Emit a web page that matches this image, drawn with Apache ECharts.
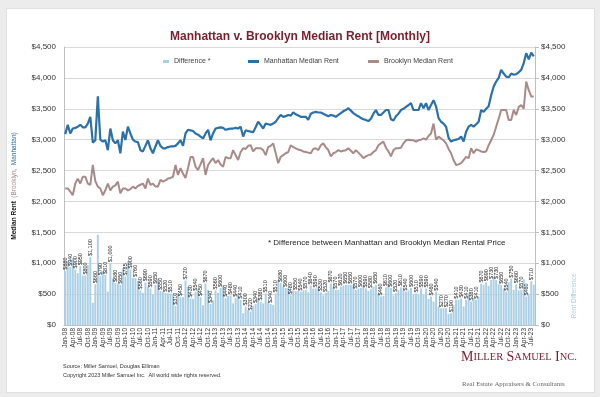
<!DOCTYPE html>
<html>
<head>
<meta charset="utf-8">
<script src="https://cdn.jsdelivr.net/npm/echarts@6/dist/echarts.min.js"></script>
<style>
  html, body { margin: 0; padding: 0; background: #ececec; }
  #card { position: absolute; left: 6px; top: 8px; width: 587px; height: 383px; background: #fff; border: 1px solid #e0e0e0; }
  #chart { position: absolute; left: 0; top: 0; width: 600px; height: 397px; }
</style>
</head>
<body>
<div id="card"></div>
<div id="chart"></div>
<script>
// monthly data, Jan-08 .. Aug-23
const monthAbbr = ['Jan', 'Feb', 'Mar', 'Apr', 'May', 'Jun', 'Jul', 'Aug', 'Sep', 'Oct', 'Nov', 'Dec'];
const yearLabels = ['08', '09', '10', '11', '12', '13', '14', '15', '16', '17', '18', '19', '20', '21', '22', '23'];

const manhattan = [
  3090, 3240, 3100, 3180, 3190, 3210, 3240, 3200, 3200, 3260, 3370, 2950,
  2990, 3700, 3000, 2970, 2990, 2830, 3180, 2990, 2940, 2990, 2780, 3130,
  2995, 3210, 3100, 3000, 2970, 2960, 2830, 2810, 2900, 2990, 2860, 2780,
  2890, 2990, 2900, 2860, 2860, 2880, 2890, 2890, 2900, 2940, 2990, 2900,
  3100, 3160, 3150, 3140, 3100, 3080, 3050, 3020, 3100, 3160, 2990, 3100,
  3180, 3190, 3200, 3190, 3160, 3170, 3180, 3180, 3190, 3180, 3210, 3050,
  3150, 3140, 3130, 3120, 3200, 3290, 3240, 3180, 3260, 3250, 3240, 3260,
  3290, 3350, 3400, 3370, 3380, 3400, 3390, 3440, 3410, 3390, 3370, 3370,
  3370, 3320, 3420, 3440, 3450, 3440, 3440, 3420, 3400, 3380, 3400, 3390,
  3370, 3400, 3430, 3460, 3480, 3510, 3470, 3430, 3400, 3380, 3350, 3330,
  3320, 3300, 3340, 3420, 3480, 3400, 3400, 3440, 3480, 3480, 3330, 3310,
  3380, 3420, 3480, 3500, 3530, 3560, 3590, 3480, 3480, 3480, 3590, 3510,
  3590, 3480, 3560, 3640, 3540, 3350, 3290, 3260, 3210, 3030, 2970, 2990,
  3000, 3010, 3050, 2970, 3130, 3210, 3240, 3210, 3250, 3290, 3480, 3450,
  3500, 3540, 3720, 3860, 3940, 4000, 4130, 4070, 4020, 4010, 4070, 4050,
  4060, 4090, 4130, 4240, 4400, 4300, 4410, 4350
];

const brooklyn = [
  2210, 2210, 2160, 2100, 2290, 2370, 2290, 2400, 2400, 2290, 2270, 2590,
  2330, 2240, 2210, 2100, 2180, 2290, 2180, 2240, 2260, 2320, 2130, 2210,
  2210, 2180, 2200, 2240, 2210, 2250, 2270, 2290, 2210, 2370, 2270, 2290,
  2240, 2240, 2350, 2320, 2340, 2370, 2380, 2400, 2590, 2430, 2540, 2450,
  2380, 2540, 2720, 2720, 2560, 2510, 2600, 2700, 2430, 2590, 2650, 2700,
  2620, 2670, 2600, 2560, 2720, 2700, 2700, 2830, 2750, 2670, 2800, 2860,
  2850, 2900, 2910, 2810, 2860, 2860, 2860, 2830, 2750, 2880, 2900, 2940,
  2780, 2620, 2720, 2750, 2780, 2800, 2910, 2880, 2860, 2840, 2830, 2810,
  2800, 2790, 2780, 2850, 2860, 2830, 2910, 2940, 2880, 2830, 2730, 2780,
  2800, 2830, 2810, 2820, 2830, 2860, 2820, 2780, 2830, 2790, 2750, 2700,
  2730, 2750, 2760, 2800, 2830, 2910, 2940, 2970, 2870, 2810, 2730, 2830,
  2860, 2860, 2870, 2940, 2990, 3000, 2990, 2990, 2970, 2990, 3000, 3020,
  3000, 3060, 3100, 3260, 3000, 3050, 3020, 2990, 2940, 2850, 2780, 2670,
  2590, 2600, 2620, 2670, 2720, 2700, 2860, 2780, 2840, 2830, 2810, 2800,
  2810, 2910, 2990, 3080, 3210, 3340, 3480, 3480, 3480, 3320, 3320, 3480,
  3400, 3530, 3560, 3500, 3940, 3800, 3700, 3700
];

const yTicks = [0, 4500, 500];

const months = [];
yearLabels.forEach(y => monthAbbr.forEach(m => months.push(m + '-' + y)));
months.length = manhattan.length;

const difference = manhattan.map((v, i) => v - brooklyn[i]);

const COLORS = {
  manhattan: '#2c70aa',
  brooklyn: '#a88a88',
  diff: '#abd0e6',
  title: '#7b1d2b',
  text: '#333333',
  grid: '#d9d9d9',
  axis: '#bfbfbf'
};

const money = v => '$' + Number(v).toLocaleString('en-US');

const chart = echarts.init(document.getElementById('chart'));

const legendBase = {
  top: 53,
  icon: 'rect',
  itemHeight: 3,
  itemWidth: 11,
  itemGap: 4,
  textStyle: { color: '#404040', fontSize: 7 }
};

chart.setOption({
  animation: false,
  textStyle: { fontFamily: 'Liberation Sans, Arial, sans-serif' },
  title: {
    text: 'Manhattan v. Brooklyn Median Rent [Monthly]',
    left: 'center',
    top: 26,
    textStyle: { color: COLORS.title, fontSize: 12, fontWeight: 'bold' }
  },
  legend: [
    Object.assign({}, legendBase, { left: 158, itemWidth: 6, data: ['Difference *'] }),
    Object.assign({}, legendBase, { left: 243, data: ['Manhattan Median Rent'] }),
    Object.assign({}, legendBase, { left: 363, data: ['Brooklyn Median Rent'] })
  ],
  grid: { left: 64, right: 65, top: 47, bottom: 72 },
  xAxis: {
    type: 'category',
    data: months,
    boundaryGap: true,
    axisLine: { lineStyle: { color: COLORS.axis } },
    axisTick: { show: false },
    axisLabel: {
      interval: 2,
      rotate: 90,
      fontSize: 6.5,
      color: COLORS.text,
      margin: 3
    }
  },
  yAxis: [
    {
      type: 'value',
      min: yTicks[0], max: yTicks[1], interval: yTicks[2],
      name: '{b|Median Rent} {br|(Brooklyn,} {m|Manhattan)}',
      nameLocation: 'middle',
      nameGap: 43,
      nameTextStyle: {
        rich: {
          b: { fontSize: 6.5, fontWeight: 'bold', color: '#111' },
          br: { fontSize: 6.5, color: COLORS.brooklyn },
          m: { fontSize: 6.5, color: COLORS.manhattan }
        }
      },
      axisLine: { show: true, lineStyle: { color: COLORS.axis } },
      axisTick: { show: false },
      axisLabel: { formatter: money, fontSize: 8, color: COLORS.text, margin: 8 },
      splitLine: { lineStyle: { color: COLORS.grid } }
    },
    {
      type: 'value',
      min: yTicks[0], max: yTicks[1], interval: yTicks[2],
      axisLine: { show: true, lineStyle: { color: COLORS.axis } },
      axisTick: { show: true, length: 4, lineStyle: { color: COLORS.axis } },
      axisLabel: { formatter: money, fontSize: 8, color: COLORS.text, margin: 6 },
      splitLine: { show: false }
    }
  ],
  series: [
    {
      name: 'Difference *',
      type: 'bar',
      yAxisIndex: 1,
      data: difference,
      barCategoryGap: '22%',
      itemStyle: { color: COLORS.diff },
      label: {
        show: true,
        position: 'top',
        rotate: 90,
        align: 'left',
        verticalAlign: 'middle',
        distance: 1,
        fontSize: 5.5,
        color: '#222',
        formatter: p => (p.dataIndex % 2 ? '' : money(p.value))
      },
      z: 1
    },
    {
      name: 'Manhattan Median Rent',
      type: 'line',
      data: manhattan,
      showSymbol: false,
      lineStyle: { color: COLORS.manhattan, width: 2.2 },
      itemStyle: { color: COLORS.manhattan },
      z: 4
    },
    {
      name: 'Brooklyn Median Rent',
      type: 'line',
      data: brooklyn,
      showSymbol: false,
      lineStyle: { color: COLORS.brooklyn, width: 2 },
      itemStyle: { color: COLORS.brooklyn },
      z: 3
    }
  ],
  graphic: [
    {
      type: 'text', left: 268, top: 239,
      style: { text: '* Difference between Manhattan and Brooklyn Median Rental Price', fontSize: 8, fill: '#222', fontFamily: 'Liberation Sans, Arial' }
    },
    {
      type: 'text', x: 574, y: 296, rotation: Math.PI / 2,
      style: { text: 'Rent Difference', fontSize: 6.5, fill: '#a9cbe3', align: 'center', verticalAlign: 'middle', fontFamily: 'Liberation Sans, Arial' }
    },
    {
      type: 'text', left: 63, top: 363,
      style: { text: 'Source: Miller Samuel, Douglas Elliman', fontSize: 5.5, fill: '#333', fontFamily: 'Liberation Sans, Arial' }
    },
    {
      type: 'text', left: 63, top: 372,
      style: { text: 'Copyright 2023 Miller Samuel Inc.  All world wide rights reserved.', fontSize: 5.5, fill: '#333', fontFamily: 'Liberation Sans, Arial' }
    },
    {
      type: 'text', left: 461, top: 350,
      style: {
        text: '{b|M}{s|ILLER} {b|S}{s|AMUEL} {b|I}{s|NC.}',
        rich: {
          b: { fontSize: 14, fill: COLORS.title, fontFamily: 'Liberation Serif, Times New Roman, serif' },
          s: { fontSize: 10.5, fill: COLORS.title, fontFamily: 'Liberation Serif, Times New Roman, serif' }
        }
      }
    },
    {
      type: 'text', left: 462, top: 381,
      style: { text: 'Real Estate Appraisers & Consultants', fontSize: 6.8, fill: '#666', fontFamily: 'Liberation Serif, Times New Roman, serif' }
    }
  ]
});
</script>
</body>
</html>
